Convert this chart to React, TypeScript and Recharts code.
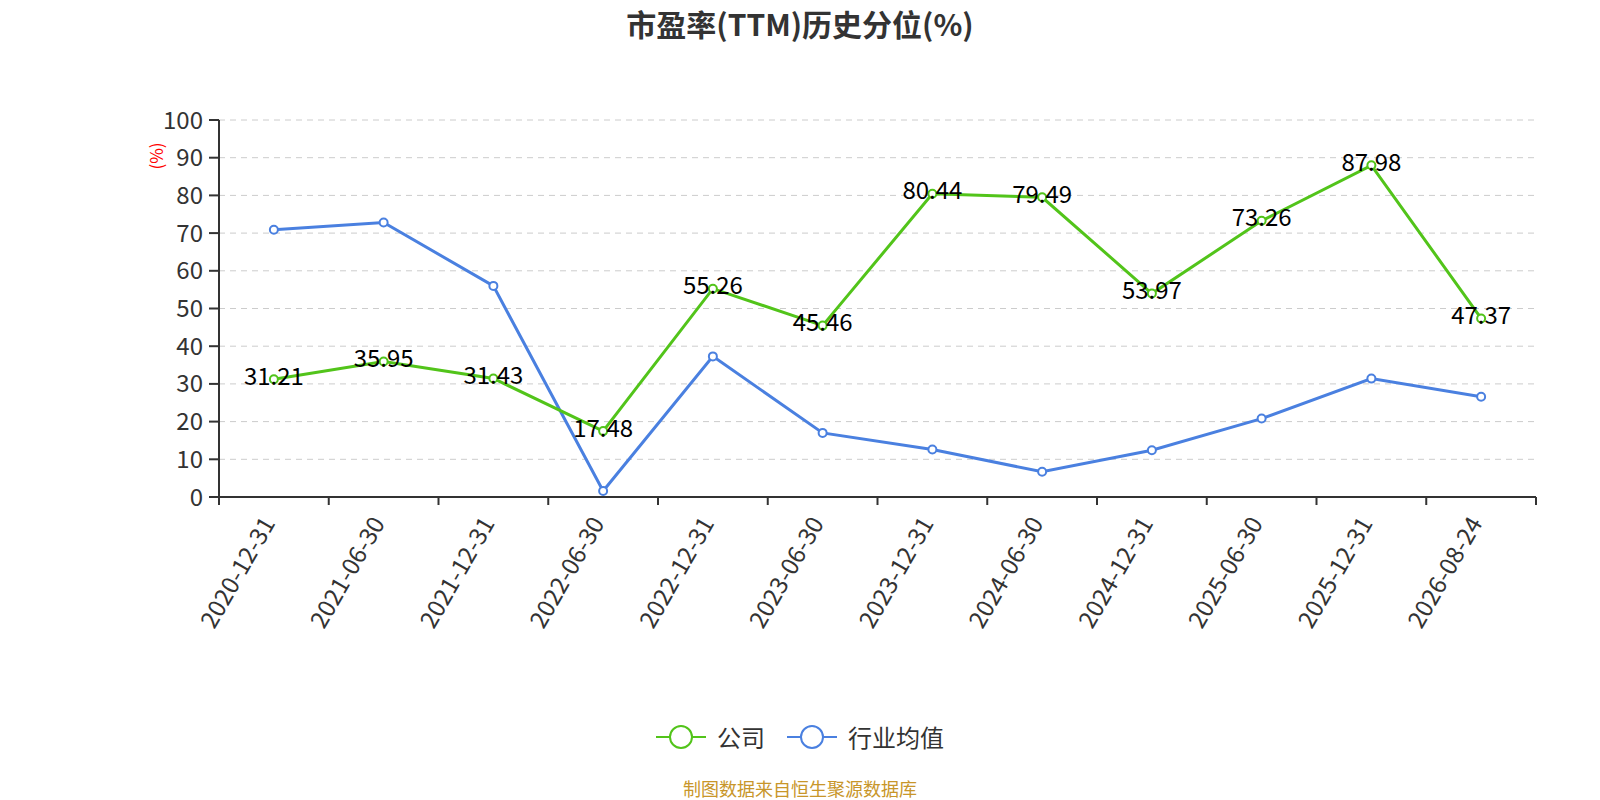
import { LineChart, Line, XAxis, YAxis, CartesianGrid, LabelList } from "recharts";

const dates = [
  "2020-12-31", "2021-06-30", "2021-12-31", "2022-06-30", "2022-12-31", "2023-06-30",
  "2023-12-31", "2024-06-30", "2024-12-31", "2025-06-30", "2025-12-31", "2026-08-24",
];
const company = [31.21, 35.95, 31.43, 17.48, 55.26, 45.46, 80.44, 79.49, 53.97, 73.26, 87.98, 47.37];
const industry = [70.9, 72.8, 56.0, 1.6, 37.3, 17.0, 12.6, 6.7, 12.4, 20.8, 31.4, 26.6];
const yTicks = [0, 10, 20, 30, 40, 50, 60, 70, 80, 90, 100];

const GREEN = "#52c41a";
const BLUE = "#4a80e0";
const FONT = "'Noto Sans CJK SC', 'Noto Sans', sans-serif";

const data = dates.map((d, i) => ({ idx: i, date: d, company: company[i], industry: industry[i] }));

// integer ticks carry the date labels, half steps carry the boundary tick marks
const xTicks: number[] = [];
for (let i = -0.5; i <= dates.length - 0.5; i += 0.5) xTicks.push(i);

const XTick = (props: any) => {
  const { x, y, payload } = props;
  const v = payload.value;
  if (Number.isInteger(v)) {
    const ax = x - 7;
    const ay = y + 9;
    return (
      <text
        x={ax}
        y={ay}
        transform={`rotate(-60, ${ax}, ${ay})`}
        textAnchor="end"
        dominantBaseline="central"
        fontSize={24}
        fill="#333"
        fontFamily={FONT}
      >
        {dates[v]}
      </text>
    );
  }
  return <line x1={x} x2={x} y1={y - 12} y2={y - 4} stroke="#333" strokeWidth={2} />;
};

const ValueLabel = (props: any) => {
  const { x, y, value } = props;
  return (
    <text x={x} y={y - 5} textAnchor="middle" dominantBaseline="central" fontSize={24} fill="#000" fontFamily={FONT}>
      {value}
    </text>
  );
};

const legendItems = [
  { name: "公司", color: GREEN },
  { name: "行业均值", color: BLUE },
];

export default function App() {
  return (
    <div style={{ position: "relative", width: 1600, height: 800, overflow: "hidden", background: "#fff", fontFamily: FONT }}>
      <style>{"body{margin:0}"}</style>
      <div style={{ position: "absolute", top: 2, left: 0, width: 1600, textAlign: "center", fontSize: 30, lineHeight: "42px", fontWeight: "bold", color: "#333" }}>
        市盈率(TTM)历史分位(%)
      </div>
      <div style={{ position: "absolute", left: 139, top: 141, width: 34, height: 30, lineHeight: "30px", transform: "rotate(-90deg)", color: "red", fontSize: 17, textAlign: "center" }}>
        (%)
      </div>
      <div style={{ position: "absolute", top: 720, left: 0, width: 1600, height: 34, display: "flex", justifyContent: "center", alignItems: "center", gap: 22, fontSize: 24, color: "#333" }}>
        {legendItems.map((it) => (
          <div key={it.name} style={{ display: "flex", alignItems: "center", gap: 11 }}>
            <svg width={50} height={30}>
              <line x1={0} x2={50} y1={15} y2={15} stroke={it.color} strokeWidth={2} />
              <circle cx={25} cy={15} r={11} fill="#fff" stroke={it.color} strokeWidth={2} />
            </svg>
            <span style={{ lineHeight: "34px" }}>{it.name}</span>
          </div>
        ))}
      </div>
      <div style={{ position: "absolute", top: 778, left: 0, width: 1600, textAlign: "center", fontSize: 18, lineHeight: "20px", color: "#c8962a" }}>
        制图数据来自恒生聚源数据库
      </div>
      <LineChart width={1600} height={800} data={data} margin={{ top: 120, right: 64, bottom: 103, left: 0 }}>
        <CartesianGrid vertical={false} stroke="#ccc" strokeDasharray="6 5" />
        <XAxis
          type="number"
          dataKey="idx"
          domain={[-0.5, dates.length - 0.5]}
          ticks={xTicks}
          interval={0}
          tick={<XTick />}
          tickLine={false}
          tickSize={8}
          tickMargin={4}
          height={200}
          axisLine={{ stroke: "#333", strokeWidth: 2 }}
        />
        <YAxis
          domain={[0, 100]}
          ticks={yTicks}
          interval={0}
          width={219}
          tickSize={10}
          tickMargin={6}
          tick={{ fontSize: 24, fill: "#333", fontFamily: FONT }}
          tickLine={{ stroke: "#333", strokeWidth: 2 }}
          axisLine={{ stroke: "#333", strokeWidth: 2 }}
        />
        <Line
          dataKey="industry"
          name="行业均值"
          stroke={BLUE}
          strokeWidth={3}
          dot={{ r: 4, fill: "#fff", stroke: BLUE, strokeWidth: 2 }}
          isAnimationActive={false}
        />
        <Line
          dataKey="company"
          name="公司"
          stroke={GREEN}
          strokeWidth={3}
          dot={{ r: 4, fill: "#fff", stroke: GREEN, strokeWidth: 2 }}
          isAnimationActive={false}
        >
          <LabelList dataKey="company" content={<ValueLabel />} />
        </Line>
      </LineChart>
    </div>
  );
}
